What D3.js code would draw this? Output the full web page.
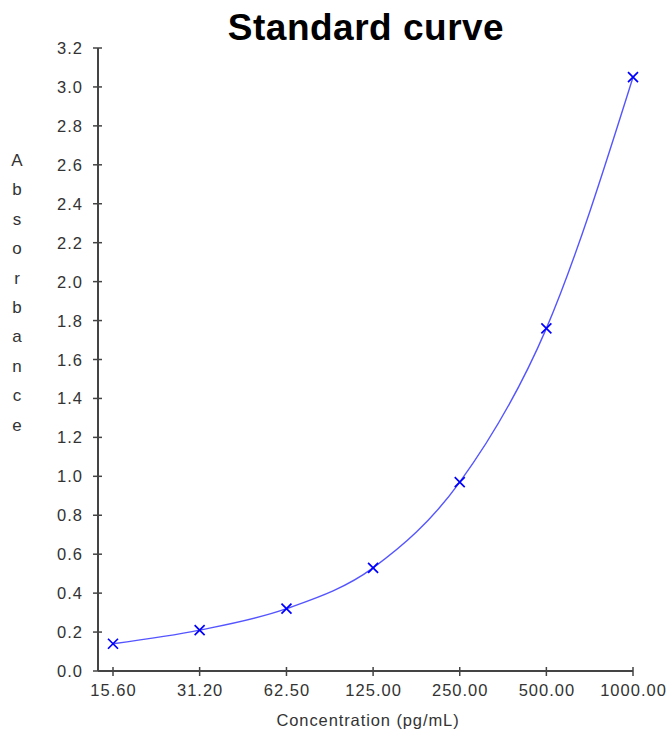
<html>
<script src="https://d3js.org/d3.v7.min.js"></script>
<style>
  body { margin: 0; background: #fff; }
  text { font-family: "Liberation Sans", Arial, sans-serif; }
</style>
<body>
<svg id="chart" width="668" height="731"></svg>
<script>
  // standard curve readings
  const concentrations = [15.6, 31.2, 62.5, 125, 250, 500, 1000];
  const absorbance = [0.14, 0.21, 0.32, 0.53, 0.97, 1.76, 3.05];
  const xTickLabels = ['15.60', '31.20', '62.50', '125.00', '250.00', '500.00', '1000.00'];
  const yTicks = [0, 0.2, 0.4, 0.6, 0.8, 1.0, 1.2, 1.4, 1.6, 1.8, 2.0, 2.2, 2.4, 2.6, 2.8, 3.0, 3.2];

  const svg = d3.select('#chart');
  const axisLeftX = 98;
  const axisBottomY = 671;

  var x = d3.scaleLog()
    .domain([15.6, 1000])
    .range([113, 633]);
  var y = d3.scaleLinear()
    .domain([0, 3.2])
    .range([671, 48]);

  // title
  svg.append('text')
    .attr('x', 366).attr('y', 39.5)
    .attr('text-anchor', 'middle')
    .attr('font-size', 37).attr('font-weight', 'bold')
    .attr('letter-spacing', 0.5)
    .attr('fill', '#000')
    .text('Standard curve');

  // y axis
  const gy = svg.append('g');
  gy.append('line')
    .attr('x1', axisLeftX).attr('x2', axisLeftX)
    .attr('y1', y(3.2)).attr('y2', axisBottomY)
    .attr('stroke', '#444').attr('stroke-width', 2);
  gy.selectAll('.tick').data(yTicks).enter().append('line')
    .attr('x1', axisLeftX - 5).attr('x2', axisLeftX + 4)
    .attr('y1', d => y(d)).attr('y2', d => y(d))
    .attr('stroke', '#444').attr('stroke-width', 1.5);
  gy.selectAll('.lbl').data(yTicks).enter().append('text')
    .attr('x', 83).attr('y', d => y(d) + 6)
    .attr('text-anchor', 'end')
    .attr('font-size', 16.5).attr('letter-spacing', 1).attr('fill', '#333')
    .text(d => d.toFixed(1));

  // x axis
  const gx = svg.append('g');
  gx.append('line')
    .attr('x1', axisLeftX).attr('x2', x(1000))
    .attr('y1', axisBottomY).attr('y2', axisBottomY)
    .attr('stroke', '#444').attr('stroke-width', 2);
  gx.selectAll('.tick').data(concentrations).enter().append('line')
    .attr('x1', d => x(d)).attr('x2', d => x(d))
    .attr('y1', axisBottomY - 4).attr('y2', axisBottomY + 5)
    .attr('stroke', '#444').attr('stroke-width', 1.5);
  gx.selectAll('.lbl').data(concentrations).enter().append('text')
    .attr('x', d => x(d) + 0.5).attr('y', 696)
    .attr('text-anchor', 'middle')
    .attr('font-size', 16.5).attr('letter-spacing', 1).attr('fill', '#333')
    .text((d, i) => xTickLabels[i]);

  // axis titles
  svg.append('text')
    .attr('x', 368).attr('y', 726)
    .attr('text-anchor', 'middle')
    .attr('font-size', 16.5).attr('letter-spacing', 0.9).attr('fill', '#333')
    .text('Concentration (pg/mL)');
  const yTitle = 'Absorbance'.split('');
  svg.selectAll('.ytitle').data(yTitle).enter().append('text')
    .attr('x', 17).attr('y', (d, i) => 166 + i * 29.4)
    .attr('text-anchor', 'middle')
    .attr('font-size', 17).attr('fill', '#333')
    .text(d => d);

  // fitted curve
  const pts = concentrations.map((c, i) => [c, absorbance[i]]);
  const line = d3.line()
    .x(d => x(d[0])).y(d => y(d[1]))
    .curve(d3.curveMonotoneX);
  svg.append('path')
    .attr('d', line(pts))
    .attr('fill', 'none')
    .attr('stroke', '#5555ff').attr('stroke-width', 1.4);

  // markers
  svg.selectAll('.mark').data(pts).enter().append('path')
    .attr('transform', d => 'translate(' + x(d[0]) + ',' + y(d[1]) + ')')
    .attr('d', 'M-5,-5L5,5M-5,5L5,-5')
    .attr('stroke', '#0000ff').attr('stroke-width', 1.7)
    .attr('fill', 'none');
</script>
</body>
</html>
